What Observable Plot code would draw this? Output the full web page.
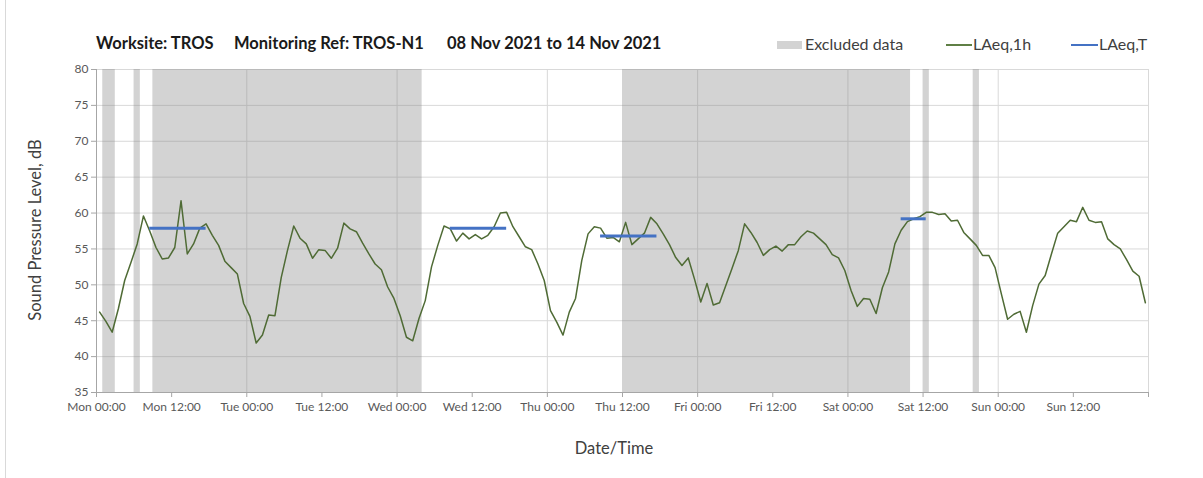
<!DOCTYPE html>
<html>
<head>
<meta charset="utf-8">
<script src="https://cdn.jsdelivr.net/npm/d3@7"></script>
<script src="https://cdn.jsdelivr.net/npm/@observablehq/plot@0.6"></script>
<style>
  html, body { margin: 0; padding: 0; background: #fff; }
  #wrap { position: relative; width: 1203px; height: 478px; overflow: hidden; font-family: Lato, "Open Sans", sans-serif; }
  #chart { position: absolute; left: 0; top: 0; }
  .abs { position: absolute; white-space: pre; line-height: 18px; }
  .title { font-weight: bold; font-size: 16.5px; color: #1a1a1a; top: 34px; }
  .leg { font-size: 16px; color: #404040; top: 35px; }
  .sw { position: absolute; }
  #border { position: absolute; left: 5px; top: 0; width: 0; height: 478px; border-left: 1px solid #d9d9d9; }
</style>
</head>
<body>
<div id="wrap">
  <div id="border"></div>
  <div id="chart"></div>
  <div class="abs title" style="left:96px">Worksite: TROS</div>
  <div class="abs title" style="left:234px">Monitoring Ref: TROS-N1</div>
  <div class="abs title" style="left:447px">08 Nov 2021 to 14 Nov 2021</div>

  <div class="sw" style="left:777px;top:41px;width:25px;height:8px;background:#d3d3d3"></div>
  <div class="abs leg" style="left:805px">Excluded data</div>
  <div class="sw" style="left:946px;top:44px;width:26px;height:2px;background:#5f7f45"></div>
  <div class="abs leg" style="left:973px">LAeq,1h</div>
  <div class="sw" style="left:1071px;top:44px;width:27px;height:2px;background:#4472c4"></div>
  <div class="abs leg" style="left:1099px">LAeq,T</div>

  <div class="abs" id="xlab" style="left:614px;top:439px;transform:translateX(-50%);font-size:16.5px;color:#404040">Date/Time</div>
  <div class="abs" id="ylab" style="left:35px;top:230px;transform:translate(-50%,-50%) rotate(-90deg);font-size:16.5px;color:#404040">Sound Pressure Level, dB</div>
</div>
<script>
// Hourly LAeq,1h values (dB), Mon 00:00 .. Sun 23:00
const laeq1h = [
  // Mon
  46.2, 44.9, 43.4, 46.7, 50.6, 53.1, 55.7, 59.6, 57.5, 55.2, 53.6, 53.75,
  55.2, 61.7, 54.3, 55.7, 57.9, 58.5, 56.9, 55.5, 53.3, 52.4, 51.5, 47.4,
  // Tue
  45.6, 41.9, 43.0, 45.8, 45.7, 51.0, 54.8, 58.2, 56.5, 55.7, 53.7, 54.9,
  54.8, 53.7, 55.1, 58.6, 57.8, 57.4, 55.8, 54.3, 52.9, 52.1, 49.7, 48.1,
  // Wed
  45.7, 42.7, 42.2, 45.3, 47.8, 52.5, 55.5, 58.2, 57.8, 56.1, 57.2, 56.4,
  57.0, 56.4, 56.9, 58.1, 60.0, 60.1, 58.1, 56.7, 55.3, 54.9, 52.9, 50.6,
  // Thu
  46.4, 44.8, 43.0, 46.2, 48.1, 53.4, 57.1, 58.1, 57.9, 56.5, 56.6, 56.0,
  58.7, 55.6, 56.4, 57.2, 59.4, 58.5, 57.1, 55.6, 53.8, 52.7, 53.75, 50.8,
  // Fri
  47.6, 50.2, 47.2, 47.5, 49.9, 52.3, 54.8, 58.5, 57.3, 55.9, 54.1, 54.9,
  55.4, 54.7, 55.6, 55.6, 56.7, 57.5, 57.2, 56.4, 55.6, 54.2, 53.75, 52.0,
  // Sat
  49.2, 47.0, 48.1, 48.0, 46.0, 49.6, 51.8, 55.7, 57.6, 58.8, 59.2, 59.5,
  60.1, 60.1, 59.8, 59.9, 58.9, 59.0, 57.3, 56.4, 55.5, 54.1, 54.1, 52.4,
  // Sun
  48.75, 45.2, 45.9, 46.3, 43.4, 47.1, 50.1, 51.3, 54.3, 57.2, 58.1, 59.0,
  58.8, 60.8, 59.0, 58.7, 58.8, 56.4, 55.6, 55.0, 53.5, 51.9, 51.2, 47.5
];

// Excluded data periods (hour index from Mon 00:00, start inclusive, end exclusive)
const excludedStart = [1, 6, 9, 84, 132, 140];
const excludedEnd   = [3, 7, 52, 130, 133, 141];

// LAeq,T periods (first and last hour index) and level
const periodStart = [8, 56, 80, 128];
const periodEnd   = [17, 65, 89, 132];
const periodLevel = [57.9, 57.9, 56.8, 59.2];

// Axis tick labels (every 12 h)
const xTickLabels = ["Mon 00:00","Mon 12:00","Tue 00:00","Tue 12:00","Wed 00:00","Wed 12:00",
  "Thu 00:00","Thu 12:00","Fri 00:00","Fri 12:00","Sat 00:00","Sat 12:00","Sun 00:00","Sun 12:00"];
const yTicks = [35, 40, 45, 50, 55, 60, 65, 70, 75, 80];

const lineData = laeq1h.map((v, h) => ({x: h + 0.5, y: v}));
const bands = excludedStart.map((s, i) => ({s, e: excludedEnd[i]}));
const periods = periodStart.map((s, i) => ({x1: s + 0.5, x2: periodEnd[i] + 0.5, y: periodLevel[i]}));
const xTicks = d3.range(0, 169, 12);
const dayLines = d3.range(24, 169, 24);

const chart = Plot.plot({
  width: 1203,
  height: 478,
  marginLeft: 96,
  marginRight: 55,
  marginTop: 69,
  marginBottom: 86,
  style: {fontFamily: "Lato, 'Open Sans', sans-serif", fontSize: "12px", background: "transparent", overflow: "visible"},
  x: {domain: [0, 168]},
  y: {domain: [35, 80]},
  marks: [
    Plot.ruleY(yTicks.slice(1), {stroke: "#d9d9d9", strokeWidth: 1}),
    Plot.ruleX(dayLines, {stroke: "#d9d9d9", strokeWidth: 1}),
    Plot.rect(bands, {x1: "s", x2: "e", fill: "#808080", fillOpacity: 0.35}),
    Plot.line(lineData, {x: "x", y: "y", stroke: "#4f6b35", strokeWidth: 1.5}),
    Plot.ruleY(periods, {x1: "x1", x2: "x2", y: "y", stroke: "#4472c4", strokeWidth: 3}),
    Plot.ruleY([35], {stroke: "#a6a6a6"}),
    Plot.ruleX([0], {stroke: "#a6a6a6"}),
    Plot.axisX(xTicks, {tickSize: 5, tickPadding: 5, stroke: "#a6a6a6", fill: "#595959",
      tickFormat: d => xTickLabels[d / 12] ?? "", label: null}),
    Plot.axisY(yTicks, {tickSize: 5, tickPadding: 3, stroke: "#a6a6a6", fill: "#595959", label: null})
  ]
});
document.getElementById("chart").appendChild(chart);
</script>
</body>
</html>
